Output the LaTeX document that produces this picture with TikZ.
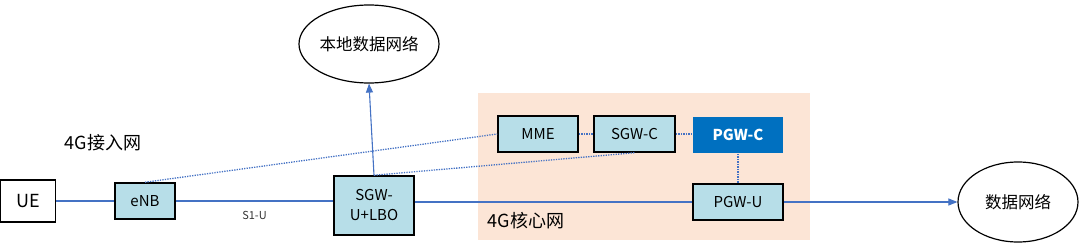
\documentclass[tikz,border=0pt]{standalone}
\usepackage{fontspec}
\setmainfont{Noto Sans CJK SC}
\usetikzlibrary{arrows.meta,shapes.geometric}
\definecolor{lineblue}{RGB}{68,114,196}
\definecolor{boxblue}{RGB}{183,222,232}
\definecolor{darkblue}{RGB}{0,112,192}
\definecolor{peach}{RGB}{252,229,214}
\tikzset{
  box/.style={draw=black,line width=1.5pt,fill=boxblue,inner sep=0pt,align=center,font=\fontsize{15}{17}\selectfont},
  link/.style={draw=lineblue,line width=1.1pt},
  ctrl/.style={draw=lineblue,line width=1.3pt,dash pattern=on 1.3pt off 1.2pt},
  cloud/.style={draw=black,line width=1.2pt,ellipse,inner sep=0pt,font=\fontsize{16.5}{18}\selectfont},
  arr/.style={-{Triangle[length=9pt,width=7pt]}}
}
\begin{document}
\begin{tikzpicture}[x=1pt,y=-1pt]
\useasboundingbox (0,0) rectangle (1080,246);
% core region
\fill[peach] (478,93) rectangle (810,240);
% nodes
\node[box,fill=white,minimum width=55pt,minimum height=42pt,font=\fontsize{18}{20}\selectfont] (ue) at (28,201) {UE};
\node[box,minimum width=60pt,minimum height=36pt] (enb) at (145,201) {eNB};
\node[box,minimum width=80pt,minimum height=59pt,font=\fontsize{15}{20}\selectfont] (sgwu) at (374,205.5) {SGW-\\U+LBO};
\node[box,minimum width=80pt,minimum height=36pt] (mme) at (538,134) {MME};
\node[box,minimum width=81pt,minimum height=36pt] (sgwc) at (634.5,134) {SGW-C};
\node[box,draw=none,fill=darkblue,text=white,font=\fontsize{15}{17}\selectfont\bfseries,minimum width=90pt,minimum height=36pt] (pgwc) at (738,135) {PGW-C};
\node[box,minimum width=90pt,minimum height=36pt] (pgwu) at (738,202) {PGW-U};
\node[cloud,minimum width=120pt,minimum height=78pt] (ldn) at (369,44) {本地数据网络};
\node[cloud,minimum width=120pt,minimum height=80pt] (dn) at (1018,202) {数据网络};
% labels
\node[font=\fontsize{18}{20}\selectfont,inner sep=0pt] (lacc) at (103,143) {4G接入网};
\node[font=\fontsize{18}{20}\selectfont,inner sep=0pt] (lcore) at (526,221) {4G核心网};
% user plane
\draw[link] (ue.east) -- (enb.west);
\draw[link] (enb.east) -- node[below=6pt,font=\fontsize{11}{13}\selectfont,text=black!80] (s1u) {S1-U} (enb.east -| sgwu.west);
\draw[link] (sgwu.east |- pgwu.west) -- (pgwu.west);
\draw[link,arr] (pgwu.east) -- (dn.west);
\draw[link,arr] (sgwu.north) -- (ldn.south);
% control plane
\draw[ctrl] (enb.north) -- (mme.west);
\draw[ctrl] (sgwu.north) -- (sgwc.south);
\draw[ctrl] (mme.east) -- (sgwc.west);
\draw[ctrl] (sgwc.east) -- (sgwc.east -| pgwc.west);
\draw[ctrl] (pgwc.south) -- (pgwu.north);
\end{tikzpicture}
\end{document}
